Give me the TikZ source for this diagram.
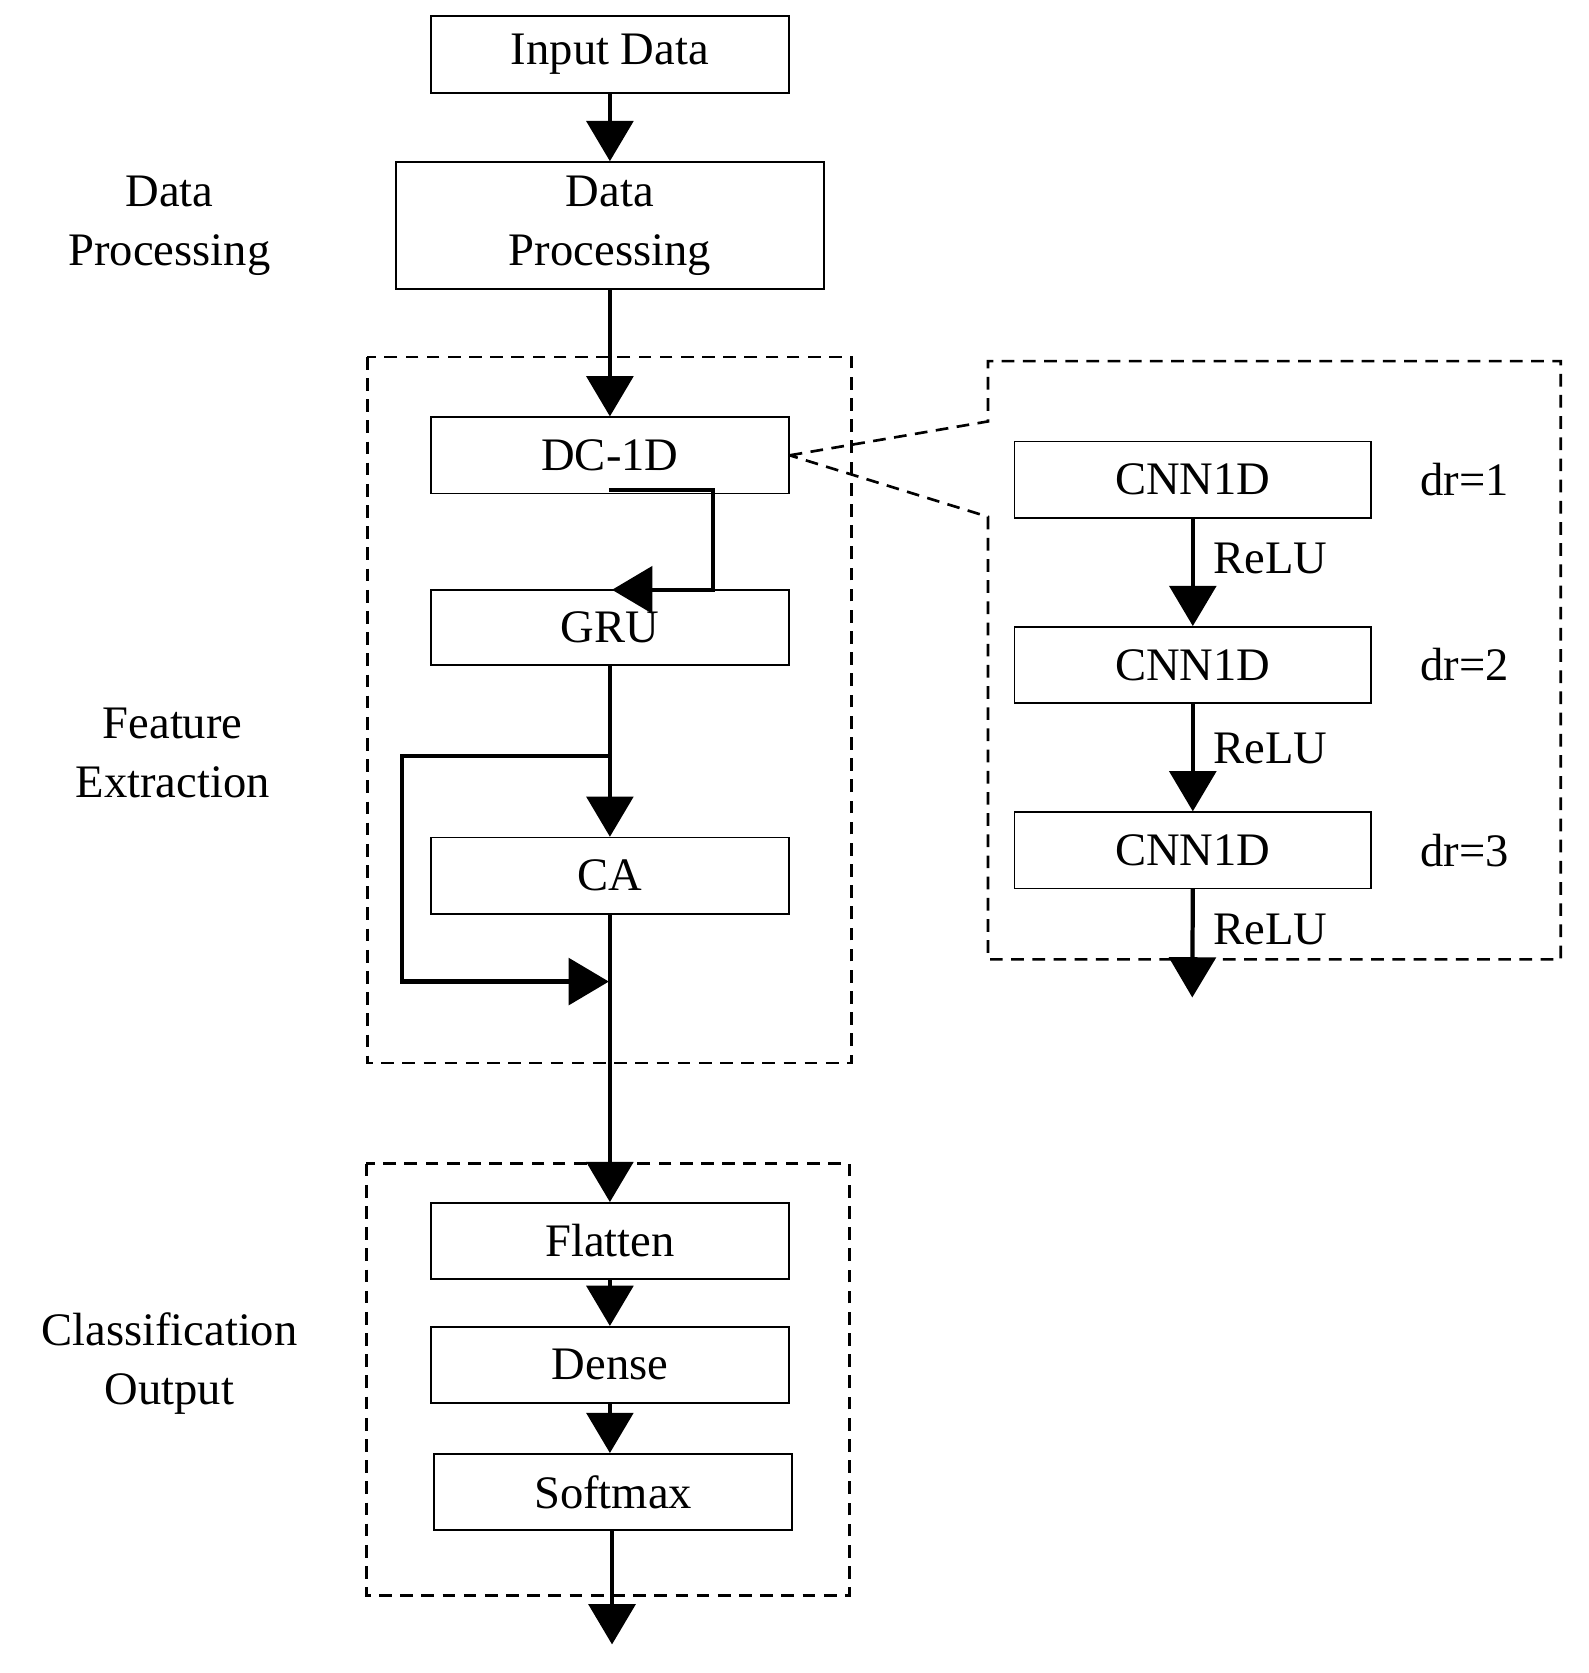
\documentclass[tikz,border=0pt]{standalone}
\usepackage{fontspec}
\setmainfont{Liberation Serif}
\usetikzlibrary{arrows.meta}
\begin{document}
\begin{tikzpicture}[x=1pt,y=-1pt,
  box/.style={draw,line width=1.5pt,inner sep=0pt},
  lbl/.style={font=\fontsize{44}{56}\selectfont,align=center},
  ln/.style={line width=4pt},
  arr/.style={ln,-{Triangle[width=44pt,length=38pt]}},
  dsh/.style={line width=2.5pt,dash pattern=on 12pt off 8pt}]
\useasboundingbox (0,0) rectangle (1500,1580);
\newcommand{\bx}[5]{\node[box,minimum width=#4-#2,minimum height=#5-#3] (#1) at ({(#2+#4)/2},{(#3+#5)/2}) {};}
\bx{inp}{407}{15}{745}{88}
\bx{dp}{374}{153}{778}{273}
\bx{dc}{407}{394}{745}{466}
\bx{gru}{407}{557}{745}{628}
\bx{ca}{407}{791}{745}{863}
\bx{fl}{407}{1136}{745}{1208}
\bx{de}{407}{1253}{745}{1325}
\bx{sm}{410}{1373}{748}{1445}
\bx{c1}{958}{417}{1295}{489}
\bx{c2}{958}{592}{1295}{664}
\bx{c3}{958}{767}{1295}{839}
\node[lbl] at (inp) {Input Data};
\node[lbl] at (dp) {Data\\Processing};
\node[lbl] at (dc) {DC-1D};
\node[lbl] at (gru) {GRU};
\node[lbl] at (ca) {CA};
\node[lbl] at (fl) {Flatten};
\node[lbl] at (de) {Dense};
\node[lbl] at (sm) {Softmax};
\node[lbl] at (c1) {CNN1D};
\node[lbl] at (c2) {CNN1D};
\node[lbl] at (c3) {CNN1D};
\node[lbl] at (1383,453) {dr=1};
\node[lbl] at (1383,628) {dr=2};
\node[lbl] at (1383,803) {dr=3};
\node[lbl] at (1200,527) {ReLU};
\node[lbl] at (1200,707) {ReLU};
\node[lbl] at (1200,878) {ReLU};
\node[lbl] at (160,213) {Data\\Processing};
\node[lbl] at (163,711) {Feature\\Extraction};
\node[lbl] at (160,1288) {Classification\\Output};
\draw[dsh] (347,337) rectangle (804,1004);
\draw[dsh] (346,1099) rectangle (802,1507);
\draw[dsh] (dc.east) -- (933,398) -- (933,341) -- (1474,341) -- (1474,906) -- (933,906) -- (933,488) -- (dc.east);
\draw[arr] (inp.south) -- (dp.north);
\draw[arr] (dp.south) -- (dc.north);
\draw[arr] (575,463) -- (673,463) -- (673,557) -- (578,557);
\draw[arr] (gru.south) -- (ca.north);
\draw[arr] (575,714) -- (380,714) -- (380,927) -- (575,927);
\draw[arr] (ca.south) -- (fl.north);
\draw[arr] (fl.south) -- (de.north);
\draw[arr] (de.south) -- (sm.north-|de.south);
\coordinate (end) at (578,1553);
\draw[arr] (sm.south-|end) -- (end);
\draw[arr] (c1.south) -- (c2.north);
\draw[arr] (c2.south) -- (c3.north);
\coordinate (end2) at (1126,942);
\draw[arr] (c3.south) -- (end2);
\end{tikzpicture}
\end{document}
